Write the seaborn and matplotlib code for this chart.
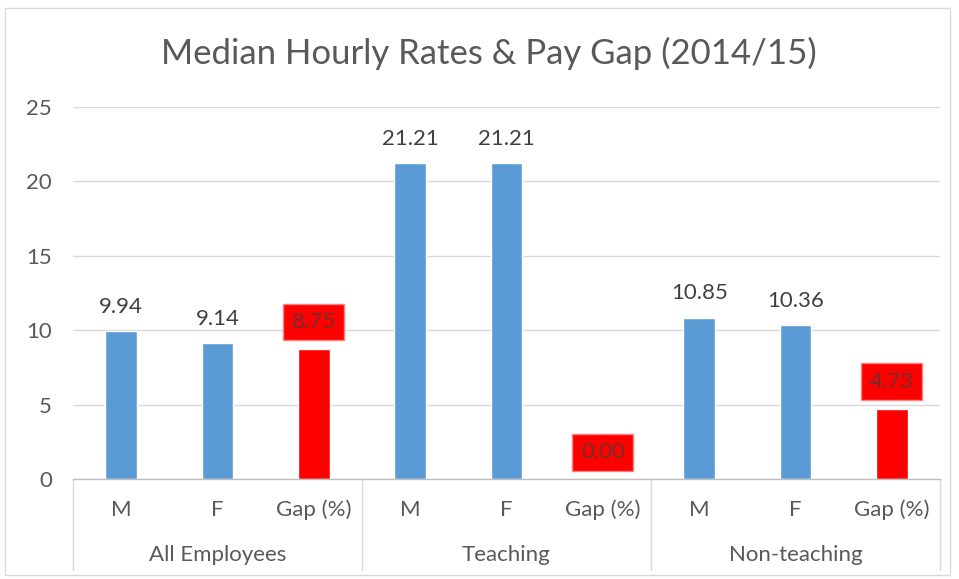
import matplotlib
matplotlib.use("Agg")
import matplotlib.pyplot as plt
import seaborn as sns
import pandas as pd
from matplotlib.patches import Rectangle

groups = ["All Employees", "Teaching", "Non-teaching"]
sub_labels = ["M", "F", "Gap (%)"]
all_emp = [9.94, 9.14, 8.75]
teaching = [21.21, 21.21, 0.00]
non_teaching = [10.85, 10.36, 4.73]
yticks = [0, 5, 10, 15, 20, 25]

rows = []
for g, vals in zip(groups, [all_emp, teaching, non_teaching]):
    for s, v in zip(sub_labels, vals):
        rows.append({"key": f"{g}|{s}", "group": g, "sub": s, "value": v,
                     "kind": "gap" if s.startswith("Gap") else "rate"})
df = pd.DataFrame(rows)

sns.set_theme(style="white")
plt.rcParams["font.family"] = ["Lato", "DejaVu Sans"]

fig = plt.figure(figsize=(9.59, 5.79), dpi=100)
ax = fig.add_axes([73/959, 1-479/579, (940-73)/959, (479-107)/579])

blue = "#5B9BD5"
red = "#FF0000"
sns.barplot(data=df, x="key", y="value", hue="kind", order=list(df["key"]),
            palette={"rate": blue, "gap": red}, dodge=False, width=0.33,
            legend=False, ax=ax, saturation=1)

FS = 16
ax.set_ylim(0, 25)
ax.set_xlim(-0.5, len(df) - 0.5)
ax.set_yticks(yticks)
ax.set_yticklabels([str(t) for t in yticks], fontsize=FS, color="#595959")
ax.tick_params(axis="y", length=0, pad=15)
ax.set_xticks([])
ax.set_xlabel("")
ax.set_ylabel("")
for sp in ["top", "right", "left"]:
    ax.spines[sp].set_visible(False)
ax.spines["bottom"].set_color("#bfbfbf")
ax.spines["bottom"].set_linewidth(1)
ax.yaxis.grid(True, color="#d9d9d9", linewidth=1)
ax.set_axisbelow(True)

# data labels
for i, r in df.iterrows():
    if r["kind"] == "gap":
        ax.annotate(f"{r['value']:.2f}", (i, r["value"]), xytext=(0, 15),
                    textcoords="offset points", ha="center", va="baseline",
                    fontsize=FS, color="#702f2f",
                    bbox=dict(boxstyle="square,pad=0.38", facecolor=red,
                              edgecolor="#ff8080", linewidth=1))
    else:
        ax.annotate(f"{r['value']:.2f}", (i, r["value"]), xytext=(0, 13),
                    textcoords="offset points", ha="center", va="baseline",
                    fontsize=FS, color="#404040")

# multi-level category axis
trans = ax.get_xaxis_transform()
H = 479 - 107
y_sub = -(510 - 479) / H
y_grp = -(555 - 479) / H
y_line_end = -(570 - 479) / H
for i, r in df.iterrows():
    ax.text(i, y_sub, r["sub"], transform=trans, ha="center", va="center",
            fontsize=FS, color="#595959")
for gi, g in enumerate(groups):
    ax.text(gi * 3 + 1, y_grp, g, transform=trans, ha="center", va="center",
            fontsize=FS, color="#595959")
for b in [-0.5, 2.5, 5.5, 8.5]:
    ax.plot([b, b], [0, y_line_end], transform=trans, color="#d9d9d9",
            linewidth=1, clip_on=False)

fig.text(489/959, 1 - 53/579, "Median Hourly Rates & Pay Gap (2014/15)",
         ha="center", va="center", fontsize=25, color="#595959")

fig.patches.append(Rectangle((5/959, 1-575/579), 945/959, 567/579,
                             transform=fig.transFigure, fill=False,
                             edgecolor="#d9d9d9", linewidth=1))

fig.savefig("out.png", dpi=100)
